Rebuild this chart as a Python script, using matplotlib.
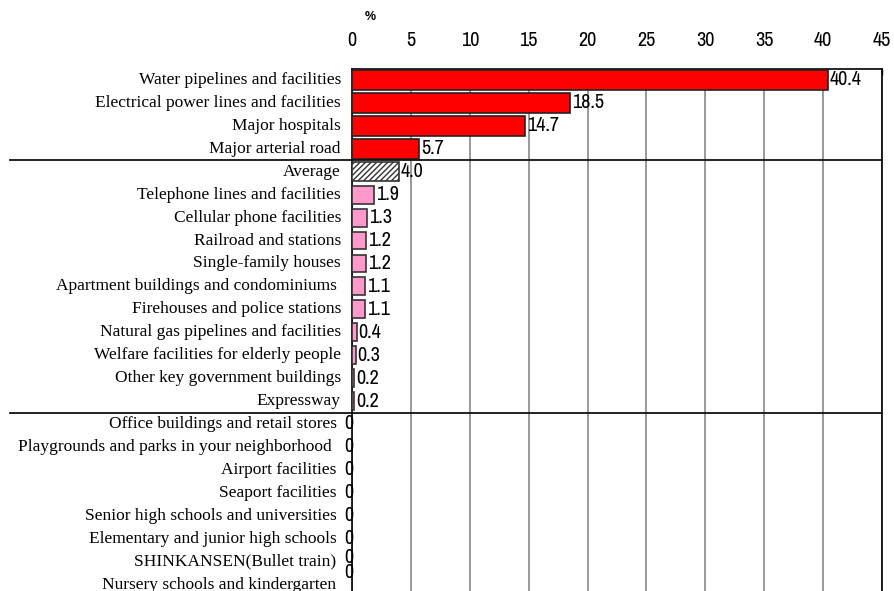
import matplotlib
matplotlib.use("Agg")
import matplotlib.pyplot as plt
import matplotlib.transforms as mtransforms

categories = [
    "Water pipelines and facilities",
    "Electrical power lines and facilities",
    "Major hospitals",
    "Major arterial road",
    "Average",
    "Telephone lines and facilities",
    "Cellular phone facilities",
    "Railroad and stations",
    "Single-family houses",
    "Apartment buildings and condominiums ",
    "Firehouses and police stations",
    "Natural gas pipelines and facilities",
    "Welfare facilities for elderly people",
    "Other key government buildings",
    "Expressway",
    "Office buildings and retail stores ",
    "Playgrounds and parks in your neighborhood  ",
    "Airport facilities ",
    "Seaport facilities ",
    "Senior high schools and universities ",
    "Elementary and junior high schools ",
    "SHINKANSEN(Bullet train) ",
    "Nursery schools and kindergarten ",
]
values = [40.4, 18.5, 14.7, 5.7, 4.0, 1.9, 1.3, 1.2, 1.2, 1.1, 1.1,
          0.4, 0.3, 0.2, 0.2, 0, 0, 0, 0, 0, 0, 0, 0]
value_labels = ["40.4", "18.5", "14.7", "5.7", "4.0", "1.9", "1.3", "1.2",
                "1.2", "1.1", "1.1", "0.4", "0.3", "0.2", "0.2",
                "0", "0", "0", "0", "0", "0", "0", "0"]
x_ticks = [0, 5, 10, 15, 20, 25, 30, 35, 40, 45]
n_top = 4          # rows above the "Average" bar
avg_index = 4
n_nonzero = 15     # rows above the second divider

num_font = ["Archivo Narrow", "Liberation Sans", "DejaVu Sans"]
num_size = 14.5

W, H = 894, 591
fig = plt.figure(figsize=(W / 100, H / 100), dpi=100)
top_px, bot_px, left_px, right_px = 68.5, 596, 352, 882
ax = fig.add_axes([left_px / W, 1 - bot_px / H, (right_px - left_px) / W, (bot_px - top_px) / H])

ys = list(range(len(categories)))
for i, (y, v) in enumerate(zip(ys, values)):
    if i < n_top:
        ax.barh(y, v, height=0.85, color="#FF0000", edgecolor="#222222", linewidth=1.2, zorder=3)
    elif i == avg_index:
        ax.barh(y, v, height=0.85, color="white", edgecolor="#333333", hatch="//////",
                linewidth=1.2, zorder=3)
    elif v > 0:
        ax.barh(y, v, height=0.78, color="#FF99CC", edgecolor="#333333", linewidth=1.2, zorder=3)

ax.set_xlim(0, 45)
ax.set_ylim(len(categories) - 0.5, -0.5)

ax.xaxis.tick_top()
ax.set_xticks(x_ticks)
ax.set_xticklabels([str(t) for t in x_ticks], family=num_font, fontsize=num_size)
ax.tick_params(axis="x", direction="in", length=4, width=1, pad=13, colors="#222222")
for lab in ax.get_xticklabels():
    lab.set_color("black")
ax.grid(axis="x", color="#888888", linewidth=1.2, zorder=0)
ax.set_axisbelow(True)

ax.set_yticks(ys)
ax.set_yticklabels(categories, family="Liberation Serif", fontsize=12.5)
ax.tick_params(axis="y", length=0, pad=8)
# nudge the category labels up slightly so the last one stays inside the figure
lift = mtransforms.ScaledTranslation(0, 2 / 100, fig.dpi_scale_trans)
for lab in ax.get_yticklabels():
    lab.set_transform(lab.get_transform() + lift)

for side in ["top", "left", "right"]:
    ax.spines[side].set_color("black")
    ax.spines[side].set_linewidth(1.2)
ax.spines["bottom"].set_visible(False)

fig.text(370 / W, 1 - 17 / H, "%", fontsize=9, fontweight="bold",
         family="Liberation Sans", ha="center", va="center")

# Divider lines between the groups of rows
x0 = (10 - left_px) / (right_px - left_px)
for yb in (n_top - 0.5, n_nonzero - 0.5):
    ax.plot([x0, 1], [yb, yb], transform=ax.get_yaxis_transform(),
            color="#111111", linewidth=1.3, clip_on=False, zorder=4)

# Value labels next to each bar
for i, (y, v, s) in enumerate(zip(ys, values, value_labels)):
    if v > 0:
        off = mtransforms.offset_copy(ax.transData, fig=fig, x=2, y=0, units="dots")
        ax.text(v, y, s, transform=off, ha="left", va="center",
                family=num_font, fontsize=num_size, zorder=5)
    else:
        dy = 0
        if i == len(values) - 2:
            dy = 4
        elif i == len(values) - 1:
            dy = 12
        off = mtransforms.offset_copy(ax.transData, fig=fig, x=-3, y=dy, units="dots")
        ax.text(v, y, s, transform=off, ha="center", va="center",
                family=num_font, fontsize=num_size, zorder=5)

fig.savefig("out.png", dpi=100)
